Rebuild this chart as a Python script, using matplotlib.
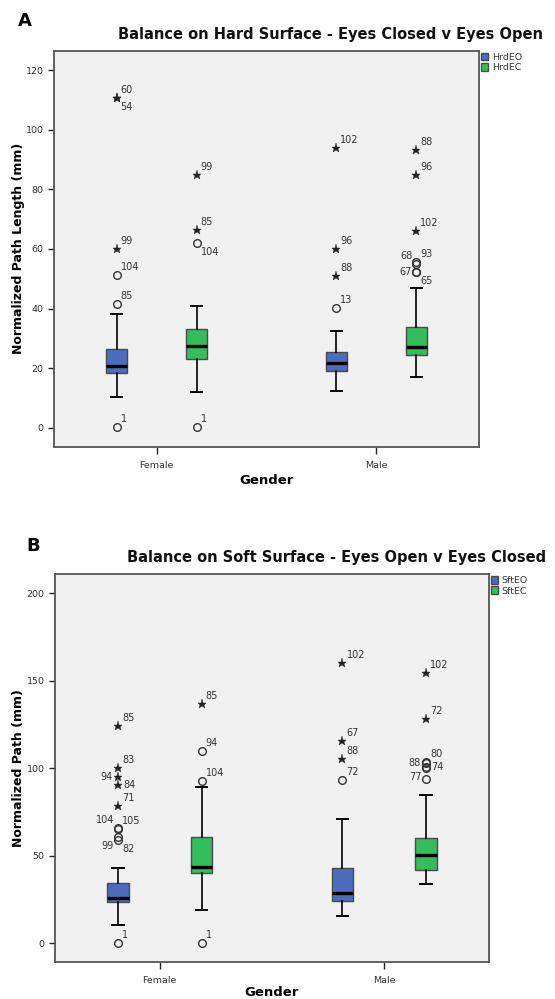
import matplotlib
matplotlib.use('Agg')
import matplotlib.pyplot as plt
from matplotlib.patches import Patch

# ---- data ----
groups = ['Female', 'Male']

# Panel A: hard surface, stats indexed [series][group]
hard_series = ['HrdEO', 'HrdEC']
hard_whislo = [[10.3, 12.4], [12.2, 17.2]]
hard_q1 = [[18.3, 19.1], [23.2, 24.6]]
hard_med = [[20.9, 21.7], [27.6, 27.2]]
hard_q3 = [[26.5, 25.4], [33.3, 33.8]]
hard_whishi = [[38.2, 32.6], [40.8, 46.8]]
# outliers: (value, case id, marker kind, label side)
hard_outliers = [
    [
        [(0.2, '1', 'o', 'ur'), (41.6, '85', 'o', 'ur'), (51.2, '104', 'o', 'ur'),
         (60.1, '99', '*', 'ur'), (110.5, '60', '*', 'ur'), (110.5, '54', '*', 'lr')],
        [(40.1, '13', 'o', 'ur'), (51.0, '88', '*', 'ur'), (60.1, '96', '*', 'ur'),
         (94.0, '102', '*', 'ur')],
    ],
    [
        [(0.2, '1', 'o', 'ur'), (62.0, '104', 'o', 'lr'), (66.5, '85', '*', 'ur'),
         (84.9, '99', '*', 'ur')],
        [(52.2, '65', 'o', 'lr'), (52.4, '67', 'o', 'l'), (55.0, '68', 'o', 'ul'),
         (55.8, '93', 'o', 'ur'), (66.1, '102', '*', 'ur'), (84.9, '96', '*', 'ur'),
         (93.2, '88', '*', 'ur')],
    ],
]

# Panel B: soft surface
soft_series = ['SftEO', 'SftEC']
soft_whislo = [[10.5, 15.8], [19.0, 34.1]]
soft_q1 = [[23.4, 24.0], [40.0, 42.1]]
soft_med = [[26.1, 28.7], [43.8, 50.5]]
soft_q3 = [[34.5, 43.0], [60.6, 60.2]]
soft_whishi = [[42.9, 71.2], [89.5, 84.7]]
soft_outliers = [
    [
        [(0.4, '1', 'o', 'ur'), (59.0, '82', 'o', 'lr'), (60.9, '99', 'o', 'll'),
         (65.2, '105', 'o', 'ur'), (65.7, '104', 'o', 'ul'), (78.5, '71', '*', 'ur'),
         (90.5, '84', '*', 'r'), (95.2, '94', '*', 'l'), (100.4, '83', '*', 'ur'),
         (124.4, '85', '*', 'ur')],
        [(93.1, '72', 'o', 'ur'), (105.3, '88', '*', 'ur'), (115.6, '67', '*', 'ur'),
         (160.2, '102', '*', 'ur')],
    ],
    [
        [(0.4, '1', 'o', 'ur'), (92.6, '104', 'o', 'ur'), (109.9, '94', 'o', 'ur'),
         (136.7, '85', '*', 'ur')],
        [(93.9, '', 'o', 'ur'), (100.4, '77', 'o', 'll'), (100.6, '74', 'o', 'r'),
         (103.2, '88', 'o', 'l'), (103.8, '80', 'o', 'ur'), (128.0, '72', '*', 'ur'),
         (154.6, '102', '*', 'ur')],
    ],
]

# ---- styling ----
COLORS = ['#4C6DBE', '#33BE5B']
FACE = '#F1F1F1'
EDGE = '#4A4A4A'
TXT = '#333333'
LABEL_POS = {
    'ur': (4, 8, 'left'), 'lr': (4, -9, 'left'),
    'ul': (-4, 8, 'right'), 'll': (-4, -9, 'right'),
    'r': (5, 0, 'left'), 'l': (-5, 0, 'right'),
}


def draw_panel(ax, series, whislo, q1, med, q3, whishi, outliers,
               offset, ylim, yticks, ylabel, xlab_y):
    ax.set_facecolor(FACE)
    for s in range(len(series)):
        stats = []
        for g in range(len(groups)):
            stats.append(dict(whislo=whislo[s][g], q1=q1[s][g], med=med[s][g],
                              q3=q3[s][g], whishi=whishi[s][g], fliers=[]))
        pos = [g + (offset if s else -offset) for g in range(len(groups))]
        ax.bxp(stats, positions=pos, widths=0.095, capwidths=0.05,
               showfliers=False, patch_artist=True,
               boxprops=dict(facecolor=COLORS[s], edgecolor=EDGE, linewidth=1.0),
               medianprops=dict(color='black', linewidth=2.4),
               whiskerprops=dict(color='black', linewidth=1.2),
               capprops=dict(color='black', linewidth=1.4))
        for g in range(len(groups)):
            for val, cid, kind, side in outliers[s][g]:
                x = pos[g]
                if kind == 'o':
                    ax.plot(x, val, 'o', mfc='none', mec='#333333', ms=5.5, mew=1.0)
                else:
                    ax.plot(x, val, '*', color='#222222', ms=6.5, mew=0.3)
                if cid:
                    dx, dy, ha = LABEL_POS[side]
                    ax.annotate(cid, xy=(x, val), xytext=(dx, dy),
                                textcoords='offset pixels', ha=ha, va='center',
                                fontsize=7.0, color=TXT)

    ax.set_xlim(-0.467, 1.467)
    ax.set_ylim(*ylim)
    ax.set_xticks(range(len(groups)))
    ax.set_xticklabels(groups)
    ax.set_yticks(yticks)
    ax.tick_params(axis='both', labelsize=6.8, colors='#222222', labelcolor=TXT,
                   length=4, width=1.0)
    ax.tick_params(axis='x', length=5, pad=5)
    for sp in ax.spines.values():
        sp.set_color('#555555')
        sp.set_linewidth(1.3)
    ax.set_xlabel('Gender', fontsize=9.5, fontweight='bold', va='center')
    ax.xaxis.set_label_coords(0.5, xlab_y)
    ax.set_ylabel(ylabel, fontsize=9, fontweight='bold', va='center')
    ax.yaxis.set_label_coords(-0.083, 0.5)
    handles = [Patch(facecolor=COLORS[i], edgecolor=EDGE, label=series[i])
               for i in range(len(series))]
    ax.legend(handles=handles, loc='upper left', bbox_to_anchor=(1.0, 1.0),
              frameon=False, fontsize=6.8, handlelength=0.8, handleheight=0.9,
              handletextpad=0.35, labelspacing=0.15, borderaxespad=0.1,
              borderpad=0.1, labelcolor=TXT)


fig = plt.figure(figsize=(5.55, 9.99), dpi=100)
W, H = 555.0, 999.0

axA = fig.add_axes([54 / W, 1 - 447 / H, (479 - 54) / W, (447 - 50.7) / H])
draw_panel(axA, hard_series, hard_whislo, hard_q1, hard_med, hard_q3, hard_whishi,
           hard_outliers, 0.182, (-6.4, 126.5), range(0, 121, 20),
           'Normalized Path Length (mm)', (447 - 480) / (447 - 50.7))

axB = fig.add_axes([55 / W, 1 - 962.3 / H, (489 - 55) / W, (962.3 - 574) / H])
draw_panel(axB, soft_series, soft_whislo, soft_q1, soft_med, soft_q3, soft_whishi,
           soft_outliers, 0.186, (-10.9, 211.0), range(0, 201, 50),
           'Normalized Path (mm)', (962.3 - 992) / (962.3 - 574))

fig.text(25 / W, 1 - 21 / H, 'A', fontsize=13, fontweight='bold', ha='center', va='center')
fig.text(33 / W, 1 - 546 / H, 'B', fontsize=13, fontweight='bold', ha='center', va='center')
fig.text(331 / W, 1 - 34 / H, 'Balance on Hard Surface - Eyes Closed v Eyes Open',
         fontsize=10.5, fontweight='bold', ha='center', va='center', color='#111111')
fig.text(337 / W, 1 - 557.5 / H, 'Balance on Soft Surface - Eyes Open v Eyes Closed',
         fontsize=10.5, fontweight='bold', ha='center', va='center', color='#111111')

fig.savefig('out.png', dpi=100)
